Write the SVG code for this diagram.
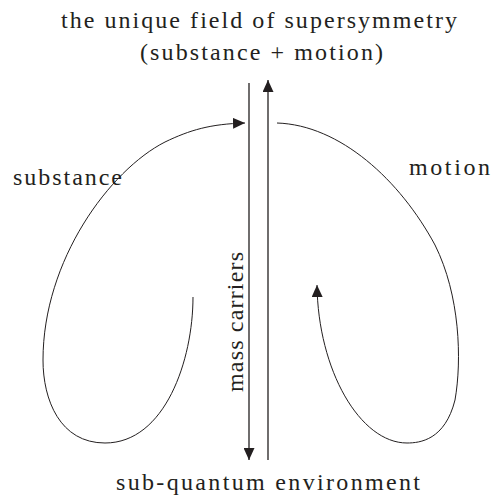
<svg xmlns="http://www.w3.org/2000/svg" width="493" height="496" viewBox="0 0 493 496">
<style>
  .ln { fill: none; stroke: #231f20; stroke-width: 1.3; }
  .cv { fill: none; stroke: #231f20; stroke-width: 1; }
</style>
<defs>
  <marker id="ah" markerUnits="userSpaceOnUse" markerWidth="12" markerHeight="11" refX="12" refY="5.5" orient="auto">
    <path d="M0,0 L12,5.5 L0,11 z" fill="#231f20"/>
  </marker>
</defs>
<g id="title">
  <text font-family="Liberation Serif" font-size="24" fill="#231f20" x="61" y="28" textLength="396" lengthAdjust="spacing">the unique field of supersymmetry</text>
  <text font-family="Liberation Serif" font-size="24" fill="#231f20" x="140" y="60" textLength="243" lengthAdjust="spacing">(substance + motion)</text>
</g>
<g id="substance-label"><text font-family="Liberation Serif" font-size="24" fill="#231f20" x="13" y="185" textLength="109" lengthAdjust="spacing">substance</text></g>
<g id="motion-label"><text font-family="Liberation Serif" font-size="24" fill="#231f20" x="409" y="175" textLength="81" lengthAdjust="spacing">motion</text></g>
<g id="mass-carriers-label"><text font-family="Liberation Serif" font-size="24" fill="#231f20" transform="translate(243,392) rotate(-90)" x="0" y="0" textLength="140" lengthAdjust="spacing">mass carriers</text></g>
<g id="bottom-label"><text font-family="Liberation Serif" font-size="24" fill="#231f20" x="116" y="490" textLength="304" lengthAdjust="spacing">sub-quantum environment</text></g>
<g id="connectors">
  <line class="ln" x1="249" y1="83" x2="249" y2="460" marker-end="url(#ah)"/>
  <line class="ln" x1="268" y1="460" x2="268" y2="80" marker-end="url(#ah)"/>
  <path class="cv" d="M193,297 C193,360 165,443 105,443 C60,443 43,400 43,360 C43,260 110,170 165,142 C190,130 210,124 245,123" marker-end="url(#ah)"/>
  <path class="cv" d="M277,123 C340,125 400,180 435,245 C460,295 462,360 455,400 C445,440 420,443 407,443 C360,443 318,370 317,285" marker-end="url(#ah)"/>
</g>
</svg>
